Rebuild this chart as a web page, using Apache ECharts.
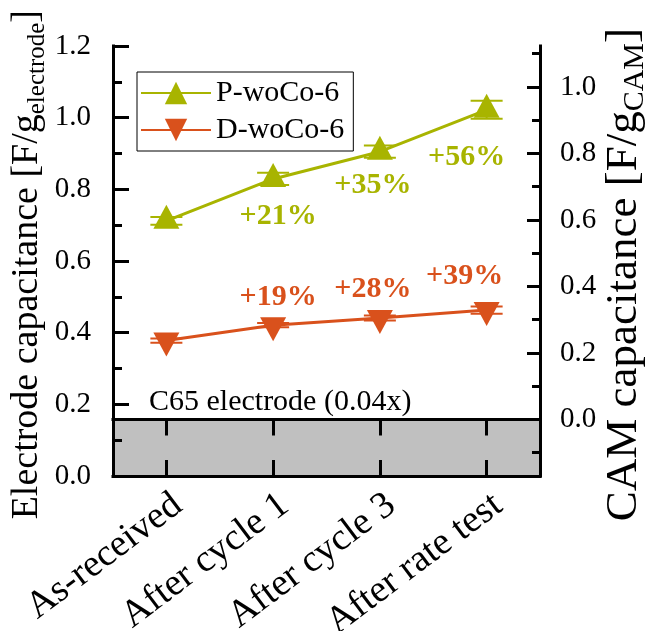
<!DOCTYPE html>
<html>
<head>
<meta charset="utf-8">
<script src="https://cdn.jsdelivr.net/npm/echarts@6/dist/echarts.min.js"></script>
<style>
  html, body { margin: 0; padding: 0; background: #fff; }
  #chart { width: 655px; height: 631px; }
</style>
</head>
<body>
<div id="chart"></div>
<script>
// Capacitance of the two electrodes over the test sequence
const categories = ['As-received', 'After cycle 1', 'After cycle 3', 'After rate test'];
const pNames = 'P-woCo-6';
const dNames = 'D-woCo-6';
const pValues = [0.712, 0.829, 0.905, 1.022];
const pErrors = [0.011, 0.017, 0.017, 0.025];
const dValues = [0.378, 0.421, 0.441, 0.463];
const dErrors = [0.006, 0.006, 0.007, 0.010];
const pGain = ['', '+21%', '+35%', '+56%'];
const dGain = ['', '+19%', '+28%', '+39%'];
const c65Level = 0.157;
const c65Text = 'C65 electrode (0.04x)';
const leftTicks = [0, 0.2, 0.4, 0.6, 0.8, 1.0, 1.2];
const camTicks = [0, 0.2, 0.4, 0.6, 0.8, 1.0];
const camMinorTicks = [-0.1, 0.1, 0.3, 0.5, 0.7, 0.9, 1.1];
const camRange = [-0.17, 1.123];

const FONT = '"Liberation Serif", "DejaVu Serif", serif';
const P_COLOR = '#a8b400';
const D_COLOR = '#d9511c';
const chart = echarts.init(document.getElementById('chart'), null, { renderer: 'canvas' });

const frameLine = { show: true, lineStyle: { color: '#000', width: 3, cap: 'square' } };

// Offsets of the percentage labels from their points
const pLabelShift = [null, [5, 41], [-7, 38], [-20, 51]];
const dLabelShift = [null, [5, -32], [-7, -33], [-22, -38]];

function lineData(values, gains, shifts, color) {
  return values.map((v, i) => {
    if (!gains[i]) return { value: v };
    return {
      value: v,
      label: {
        show: true, position: 'inside', formatter: gains[i], offset: shifts[i],
        color: color, fontFamily: FONT, fontWeight: 'bold', fontSize: 30
      }
    };
  });
}

function errorSeries(values, errors, color) {
  return {
    type: 'custom',
    xAxisIndex: 0, yAxisIndex: 0, z: 3,
    data: values.map((v, i) => [i, v, errors[i]]),
    renderItem: function (params, api) {
      const x = api.value(0), y = api.value(1), e = api.value(2);
      const hi = api.coord([x, y + e]);
      const lo = api.coord([x, y - e]);
      const hw = 16;
      const st = { stroke: color, lineWidth: 2 };
      return {
        type: 'group',
        children: [
          { type: 'line', shape: { x1: hi[0], y1: hi[1], x2: lo[0], y2: lo[1] }, style: st },
          { type: 'line', shape: { x1: hi[0] - hw, y1: hi[1], x2: hi[0] + hw, y2: hi[1] }, style: st },
          { type: 'line', shape: { x1: lo[0] - hw, y1: lo[1], x2: lo[0] + hw, y2: lo[1] }, style: st }
        ]
      };
    }
  };
}

const option = {
  backgroundColor: '#fff',
  animation: false,
  grid: { left: 113, top: 46, width: 427, height: 430, containLabel: false, outerBoundsMode: 'none' },
  legend: {
    orient: 'vertical', left: 137, top: 72,
    padding: [6, 9, 6, 3],
    itemWidth: 70, itemHeight: 28, itemGap: 7,
    borderColor: '#000', borderWidth: 1, backgroundColor: '#fff',
    textStyle: { fontFamily: FONT, fontSize: 30, lineHeight: 30, color: '#000' },
    data: [pNames, dNames]
  },
  xAxis: [
    {
      type: 'category', data: categories, position: 'bottom', boundaryGap: true, z: 10,
      axisLine: frameLine,
      axisTick: { show: true, inside: true, alignWithLabel: true, length: 16, lineStyle: { color: '#000', width: 3 } },
      axisLabel: {
        rotate: 37, align: 'right', verticalAlign: 'top', margin: 10, interval: 0,
        fontFamily: FONT, fontSize: 38, color: '#000'
      },
      splitLine: { show: false }
    },
    {
      type: 'category', data: categories, position: 'top', boundaryGap: true, z: 10,
      axisLine: frameLine,
      axisTick: { show: true, inside: true, alignWithLabel: true, length: 16, lineStyle: { color: '#000', width: 3 } },
      axisLabel: { show: false },
      splitLine: { show: false }
    }
  ],
  yAxis: [
    {
      type: 'value', position: 'left', min: leftTicks[0], max: leftTicks[leftTicks.length - 1], interval: 0.2, z: 10,
      axisLine: frameLine,
      axisTick: { show: true, inside: true, length: 16, lineStyle: { color: '#000', width: 3 } },
      minorTick: { show: true, splitNumber: 2, length: 9, lineStyle: { color: '#000', width: 3 } },
      axisLabel: { margin: 22, fontFamily: FONT, fontSize: 29, color: '#000', formatter: v => v.toFixed(1) },
      splitLine: { show: false }, minorSplitLine: { show: false }
    },
    {
      type: 'value', position: 'right', min: camRange[0], max: camRange[1], z: 10, alignTicks: false,
      axisLine: frameLine,
      axisTick: { show: true, inside: true, length: 13, customValues: camTicks, lineStyle: { color: '#000', width: 3 } },
      axisLabel: { margin: 20, fontFamily: FONT, fontSize: 29, color: '#000', customValues: camTicks, formatter: v => v.toFixed(1) },
      splitLine: { show: false }
    },
    {
      type: 'value', position: 'right', min: camRange[0], max: camRange[1], z: 10, alignTicks: false,
      axisLine: { show: false },
      axisTick: { show: true, inside: true, length: 8, customValues: camMinorTicks, lineStyle: { color: '#000', width: 3 } },
      axisLabel: { show: false },
      splitLine: { show: false }
    }
  ],
  graphic: [
    {
      type: 'text', left: 8, top: 10, rotation: Math.PI / 2, z: 20,
      style: {
        text: '{m|Electrode capacitance [F/g}{s|electrode}{m|]}',
        rich: {
          m: { fontFamily: FONT, fontSize: 38, color: '#000', lineHeight: 46, verticalAlign: 'middle' },
          s: { fontFamily: FONT, fontSize: 25, color: '#000', lineHeight: 46, verticalAlign: 'bottom' }
        }
      }
    },
    {
      type: 'text', right: 5, top: 28, rotation: Math.PI / 2, z: 20,
      style: {
        text: '{m|CAM capacitance [F/g}{s|CAM}{m|]}',
        rich: {
          m: { fontFamily: FONT, fontSize: 45, color: '#000', lineHeight: 52, verticalAlign: 'middle' },
          s: { fontFamily: FONT, fontSize: 30, color: '#000', lineHeight: 52, verticalAlign: 'bottom' }
        }
      }
    }
  ],
  series: [
    {
      type: 'line', name: 'c65', silent: true, data: [], xAxisIndex: 0, yAxisIndex: 0,
      markArea: {
        silent: true,
        itemStyle: { color: '#c0c0c0' },
        label: {
          show: true, position: 'insideTopLeft', formatter: c65Text, offset: [31, -38],
          fontFamily: FONT, fontSize: 30, color: '#000'
        },
        data: [[{ yAxis: 0 }, { yAxis: c65Level }]]
      }
    },
    errorSeries(pValues, pErrors, P_COLOR),
    errorSeries(dValues, dErrors, D_COLOR),
    {
      type: 'line', name: pNames, xAxisIndex: 0, yAxisIndex: 0, z: 5,
      data: lineData(pValues, pGain, pLabelShift, P_COLOR),
      symbol: 'triangle', symbolSize: [26, 24], symbolOffset: [0, -4],
      lineStyle: { color: P_COLOR, width: 3 },
      itemStyle: { color: P_COLOR, borderWidth: 0 }
    },
    {
      type: 'line', name: dNames, xAxisIndex: 0, yAxisIndex: 0, z: 5,
      data: lineData(dValues, dGain, dLabelShift, D_COLOR),
      symbol: 'path://M0,0 L2,0 L1,2 Z', symbolSize: [26, 24], symbolOffset: [0, 4],
      lineStyle: { color: D_COLOR, width: 3 },
      itemStyle: { color: D_COLOR, borderWidth: 0 }
    }
  ]
};

chart.setOption(option);
</script>
</body>
</html>
